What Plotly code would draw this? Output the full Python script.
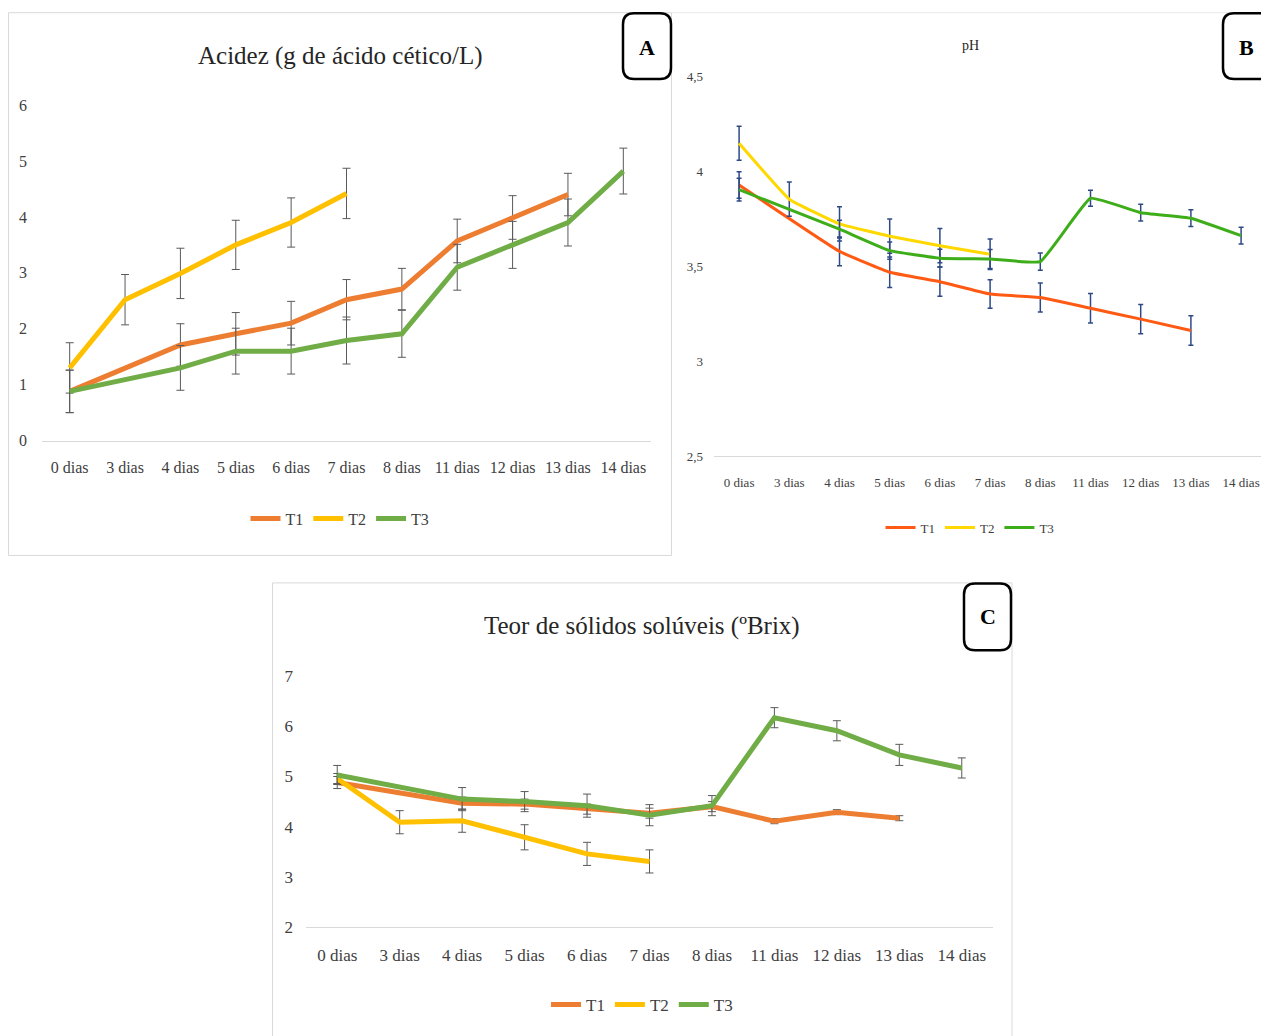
import plotly.graph_objects as go

# figure is the full 1261x1036 page; the page margin is removed below
W, H = 1261, 1036
# measured vertical placement of the figure in the photographed window
OY, SY = 8.8, 0.983

# ---------------- data ----------------
dias = ["0 dias", "3 dias", "4 dias", "5 dias", "6 dias", "7 dias",
        "8 dias", "11 dias", "12 dias", "13 dias", "14 dias"]
series_names = ["T1", "T2", "T3"]

# A - Acidez (g de ácido cético/L)
acid_T1 = [0.88, None, 1.71, 1.91, 2.10, 2.52, 2.71, 3.57, 3.99, 4.40, None]
acid_T2 = [1.30, 2.52, 2.99, 3.50, 3.90, 4.42, None, None, None, None, None]
acid_T3 = [0.88, None, 1.30, 1.60, 1.60, 1.79, 1.91, 3.10, 3.50, 3.90, 4.82]
acid_E1 = [0.38, 0, 0.38, 0.38, 0.39, 0.36, 0.37, 0.39, 0.39, 0.38, 0]
acid_E2 = [0.45, 0.45, 0.45, 0.44, 0.44, 0.45, 0, 0, 0, 0, 0]
acid_E3 = [0.38, 0, 0.40, 0.41, 0.41, 0.42, 0.42, 0.41, 0.42, 0.42, 0.41]

# B - pH
ph_T1 = [3.93, None, 3.58, 3.47, 3.42, 3.355, 3.337, 3.28, 3.223, 3.163, None]
ph_T2 = [4.15, 3.855, 3.725, 3.66, 3.61, 3.565, None, None, None, None, None]
ph_T3 = [3.905, None, 3.697, 3.584, 3.544, 3.54, 3.526, 3.86, 3.784, 3.755, 3.663]
ph_E1 = [0.07, 0, 0.076, 0.08, 0.077, 0.075, 0.076, 0.078, 0.077, 0.078, 0]
ph_E2 = [0.09, 0.09, 0.09, 0.09, 0.09, 0.08, 0, 0, 0, 0, 0]
ph_E3 = [0.06, 0, 0.047, 0.046, 0.047, 0.05, 0.046, 0.042, 0.044, 0.044, 0.044]

# C - Teor de sólidos solúveis (ºBrix)
brix_T1 = [4.88, None, 4.47, 4.45, 4.35, 4.27, 4.40, 4.11, 4.29, 4.17, None]
brix_T2 = [4.96, 4.09, 4.12, 3.79, 3.46, 3.31, None, None, None, None, None]
brix_T3 = [5.03, None, 4.55, 4.50, 4.42, 4.23, 4.42, 6.17, 5.91, 5.43, 5.17]
brix_E1 = [0.12, 0, 0.12, 0.1, 0.1, 0.1, 0.1, 0.05, 0.05, 0.05, 0]
brix_E2 = [0.1, 0.23, 0.23, 0.25, 0.23, 0.23, 0, 0, 0, 0, 0]
brix_E3 = [0.19, 0, 0.23, 0.2, 0.23, 0.21, 0.2, 0.2, 0.2, 0.21, 0.2]

colors_AC = ["#ED7D31", "#FFC000", "#70AD47"]
colors_B = ["#FF5A14", "#FFD800", "#3DAE1A"]

SERIF = "Liberation Serif, Times New Roman, serif"


def fx(x):
    return x / W


def fy(y):
    return 1 - ((y - OY) / SY) / H


fig = go.Figure()


def add_panel(ys, errs, colors, width, xa, ya, legend, err_color, err_th, err_w, shape):
    for name, y, e, c in zip(series_names, ys, errs, colors):
        line = dict(color=c, width=width, shape=shape)
        if shape == "spline":
            line["smoothing"] = 0.3
        fig.add_trace(go.Scatter(
            x=dias, y=y, name=name, mode="lines",
            line=line,
            connectgaps=True,
            error_y=dict(type="data", array=e, visible=True, color=err_color,
                         thickness=err_th, width=err_w),
            xaxis=xa, yaxis=ya, legend=legend,
        ))


add_panel([acid_T1, acid_T2, acid_T3], [acid_E1, acid_E2, acid_E3], colors_AC, 5,
          "x", "y", "legend", "#5A5A5A", 1, 4, "linear")
add_panel([ph_T1, ph_T2, ph_T3], [ph_E1, ph_E2, ph_E3], colors_B, 3,
          "x2", "y2", "legend2", "#2E4A86", 1.5, 2.5, "spline")
add_panel([brix_T1, brix_T2, brix_T3], [brix_E1, brix_E2, brix_E3], colors_AC, 5,
          "x3", "y3", "legend3", "#5A5A5A", 1, 4, "linear")


def xd(a, b):
    return [max(fx(a), 0.0), min(fx(b), 1.0)]


def yd(top, bottom):
    return [max(fy(bottom), 0.0), min(fy(top), 1.0)]


def xaxis(domain, rng, anchor, size, standoff):
    return dict(domain=domain, range=rng, anchor=anchor, type="category",
                showgrid=False, zeroline=False, showline=True, linecolor="#D9D9D9",
                linewidth=1, ticks="", tickfont=dict(family=SERIF, size=size, color="#404040"),
                ticklabelstandoff=standoff, fixedrange=True)


def yaxis(domain, rng, dtick, anchor, size, standoff):
    return dict(domain=domain, range=rng, dtick=dtick, anchor=anchor,
                showgrid=False, zeroline=False, showline=False, ticks="",
                tickfont=dict(family=SERIF, size=size, color="#404040"),
                ticklabelstandoff=standoff, fixedrange=True)


# panel B's plot area runs past the right edge of the page (clipped in the reference)
b_left, b_step = 714, 50.2
b_right_edge = W
b_range_end = -0.5 + (b_right_edge - b_left) / b_step

fig.update_layout(
    width=W, height=H,
    margin=dict(l=0, r=0, t=0, b=0),
    paper_bgcolor="white", plot_bgcolor="rgba(0,0,0,0)",
    separators=", ",
    showlegend=True,
    xaxis=xaxis(xd(42, 651), [-0.5, 10.5], "y", 16, 12),
    yaxis=yaxis(yd(105, 441), [0, 6], 1, "x", 16, 14),
    xaxis2=xaxis(xd(b_left, b_right_edge), [-0.5, b_range_end], "y2", 13, 14),
    yaxis2=yaxis(yd(76.7, 456.7), [2.5, 4.5], 0.5, "x2", 13, 10),
    xaxis3=xaxis(xd(306, 993), [-0.5, 10.5], "y3", 17, 12),
    yaxis3=yaxis(yd(676.7, 928.3), [2, 7], 1, "x3", 17, 12),
    legend=dict(orientation="h", x=fx(340), xanchor="center", y=fy(519), yanchor="middle",
                font=dict(family=SERIF, size=16, color="#404040"), bgcolor="rgba(0,0,0,0)",
                itemwidth=30),
    legend2=dict(orientation="h", x=fx(970), xanchor="center", y=fy(528), yanchor="middle",
                 font=dict(family=SERIF, size=13, color="#404040"), bgcolor="rgba(0,0,0,0)",
                 itemwidth=30),
    legend3=dict(orientation="h", x=fx(642), xanchor="center", y=fy(1006), yanchor="middle",
                 font=dict(family=SERIF, size=17, color="#404040"), bgcolor="rgba(0,0,0,0)",
                 itemwidth=30),
)

# ---------------- decorations ----------------
shapes = []


def rect(x0, y0, x1, y1, color, lw):
    shapes.append(dict(type="rect", xref="paper", yref="paper",
                       x0=fx(x0), y0=fy(y1), x1=fx(x1), y1=fy(y0),
                       line=dict(color=color, width=lw), fillcolor="rgba(0,0,0,0)", layer="below"))


def hline(x0, x1, y, color, lw):
    shapes.append(dict(type="line", xref="paper", yref="paper",
                       x0=fx(x0), y0=fy(y), x1=fx(x1), y1=fy(y), line=dict(color=color, width=lw)))


def rounded(x0, y0, x1, y1, r):
    def pt(x, y):
        return f"{fx(x):.6f},{fy(y):.6f}"
    path = (f"M {pt(x0 + r, y0)} L {pt(x1 - r, y0)} Q {pt(x1, y0)} {pt(x1, y0 + r)} "
            f"L {pt(x1, y1 - r)} Q {pt(x1, y1)} {pt(x1 - r, y1)} "
            f"L {pt(x0 + r, y1)} Q {pt(x0, y1)} {pt(x0, y1 - r)} "
            f"L {pt(x0, y0 + r)} Q {pt(x0, y0)} {pt(x0 + r, y0)} Z")
    shapes.append(dict(type="path", xref="paper", yref="paper", path=path,
                       line=dict(color="black", width=2.5), fillcolor="white"))


rect(8.5, 12.5, 671.5, 556, "#D9D9D9", 1)
hline(672, 1261, 12.5, "#EBEBEB", 1)
rect(272.5, 583.5, 1012, 1080, "#D9D9D9", 1)
rounded(623, 13, 671, 79, 11)
rounded(1223, 13, 1275, 79, 11)
rounded(964, 584, 1011, 651, 11)
fig.update_layout(shapes=shapes)

annotations = []


def text(x, y, s, size, bold=False, color="#262626"):
    annotations.append(dict(xref="paper", yref="paper", x=fx(x), y=fy(y),
                            text=f"<b>{s}</b>" if bold else s,
                            showarrow=False, xanchor="center", yanchor="middle",
                            font=dict(family=SERIF, size=size, color=color)))


text(340, 56, "Acidez (g de ácido cético/L)", 25)
text(970, 45, "pH", 14)
text(642, 627, "Teor de sólidos solúveis (ºBrix)", 25)
text(647, 47, "A", 22, True, "black")
text(1246, 47, "B", 22, True, "black")
text(988, 617, "C", 22, True, "black")
fig.update_layout(annotations=annotations)

# page styling: no body margin so the figure fills the window exactly
page_css = ("var s=document.documentElement.style, b=document.body.style;"
            "s.margin='0';s.padding='0';s.overflow='hidden';"
            "b.margin='0';b.padding='0';b.overflow='hidden';")

fig.write_html("out.html", post_script=page_css, config={"displayModeBar": False})
